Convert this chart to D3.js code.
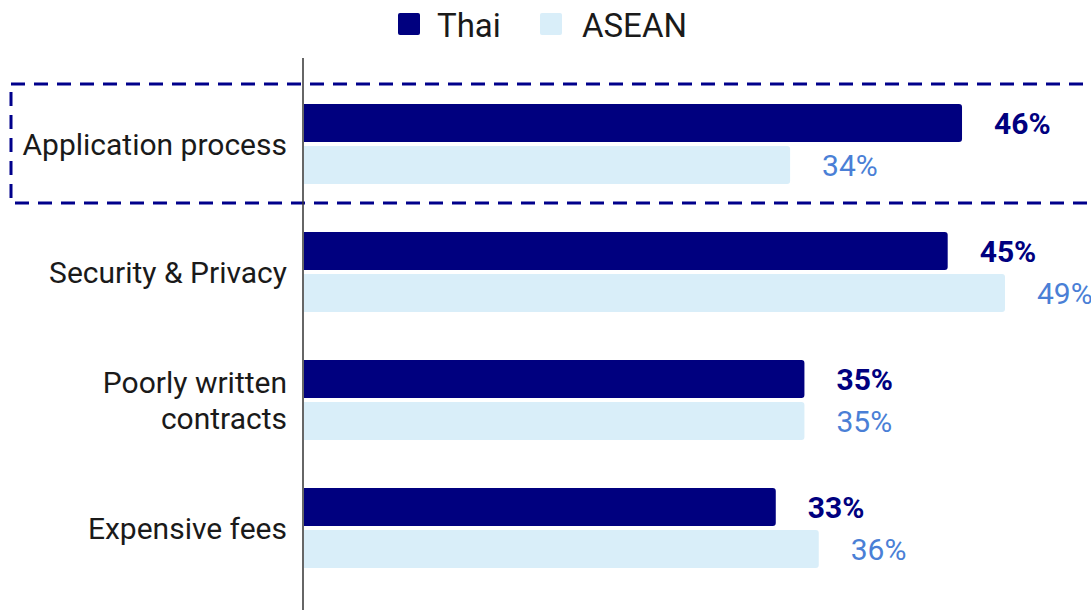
<!DOCTYPE html>
<html>
<head>
<meta charset="utf-8">
<script src="https://cdn.jsdelivr.net/npm/d3@7"></script>
<style>
  html, body { margin: 0; padding: 0; background: #fff; }
  svg { display: block; font-family: Roboto, "Noto Sans", sans-serif; }
</style>
</head>
<body>
<svg id="chart" width="1091" height="610"></svg>
<script>
// Concerns about the process, Thai respondents vs ASEAN average (%)
const categories = ["Application process", "Security & Privacy", "Poorly written contracts", "Expensive fees"];
const categoryLines = [["Application process"], ["Security & Privacy"], ["Poorly written", "contracts"], ["Expensive fees"]];
const seriesNames = ["Thai", "ASEAN"];
const thaiValues = [46, 45, 35, 33];
const aseanValues = [34, 49, 35, 36];
const highlighted = ["Application process"];

const colors = { Thai: "#00007f", ASEAN: "#d9eef9" };
const labelColors = { Thai: "#00007f", ASEAN: "#4a7fd6" };

const svg = d3.select("#chart");
const W = 1091, H = 610;

const x = d3.scaleLinear().domain([0, 49]).range([303, 1005]);
const y = d3.scaleBand().domain(categories).range([80, 592]).paddingInner(0).paddingOuter(0);
const inner = d3.scaleBand().domain(seriesNames).range([24, 104]).paddingInner(0.1);

const rows = categories.map((c, i) => ({ cat: c, lines: categoryLines[i], Thai: thaiValues[i], ASEAN: aseanValues[i] }));

// Highlight box around selected categories
highlighted.forEach(c => {
  svg.append("rect")
    .attr("x", 11)
    .attr("y", y(c) + 4)
    .attr("width", W + 20)
    .attr("height", 119)
    .attr("fill", "none")
    .attr("stroke", "#00008b")
    .attr("stroke-width", 3)
    .attr("stroke-dasharray", "14,9");
});

// Bars with slightly rounded right ends
function barPath(x0, y0, w, h, r) {
  r = Math.min(r, w);
  return `M${x0},${y0}H${x0 + w - r}Q${x0 + w},${y0} ${x0 + w},${y0 + r}V${y0 + h - r}Q${x0 + w},${y0 + h} ${x0 + w - r},${y0 + h}H${x0}Z`;
}

const g = svg.append("g");
rows.forEach(d => {
  seriesNames.forEach(s => {
    const y0 = y(d.cat) + inner(s);
    g.append("path")
      .attr("d", barPath(x(0) + 1, y0, x(d[s]) - x(0) - 1, inner.bandwidth(), 3))
      .attr("fill", colors[s]);
    g.append("text")
      .attr("x", x(d[s]) + 32)
      .attr("y", y0 + inner.bandwidth() / 2)
      .attr("dy", "0.36em")
      .attr("font-size", 30)
      .attr("font-weight", s === "Thai" ? 700 : 400)
      .attr("fill", labelColors[s])
      .text(d[s] + "%");
  });
});

// Category labels
rows.forEach(d => {
  const cy = y(d.cat) + 64;
  const n = d.lines.length;
  const t = svg.append("text")
    .attr("text-anchor", "end")
    .attr("font-size", 30)
    .attr("fill", "#1a1a1a");
  d.lines.forEach((ln, i) => {
    t.append("tspan")
      .attr("x", 287)
      .attr("y", cy + (i - (n - 1) / 2) * 36)
      .attr("dy", "0.36em")
      .text(ln);
  });
});

// Vertical axis line
svg.append("line")
  .attr("x1", x(0)).attr("x2", x(0))
  .attr("y1", 58).attr("y2", H)
  .attr("stroke", "#333").attr("stroke-width", 1.5);

// Legend
const legend = svg.append("g");
const legendPos = [{ sx: 398, tx: 437 }, { sx: 540, tx: 582 }];
seriesNames.forEach((s, i) => {
  legend.append("rect")
    .attr("x", legendPos[i].sx).attr("y", 13)
    .attr("width", 22).attr("height", 22).attr("rx", 2)
    .attr("fill", colors[s]);
  legend.append("text")
    .attr("x", legendPos[i].tx).attr("y", 25)
    .attr("dy", "0.36em")
    .attr("font-size", 33)
    .attr("fill", "#1a1a1a")
    .text(s);
});
</script>
</body>
</html>
